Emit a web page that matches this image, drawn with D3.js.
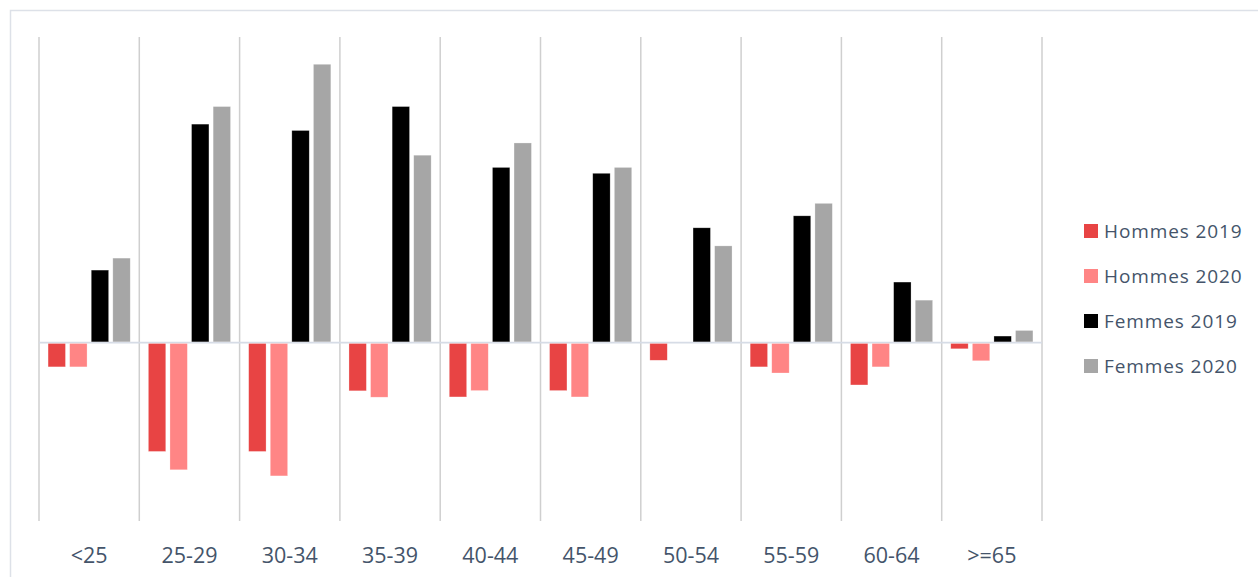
<!DOCTYPE html>
<html>
<head>
<meta charset="utf-8">
<script src="https://cdnjs.cloudflare.com/ajax/libs/d3/7.8.5/d3.min.js"></script>
<style>
  html, body { margin: 0; padding: 0; background: #fff; }
  svg { display: block; }
</style>
</head>
<body>
<svg id="chart" width="1258" height="577"></svg>
<script>
const categories = ["<25", "25-29", "30-34", "35-39", "40-44", "45-49", "50-54", "55-59", "60-64", ">=65"];
const seriesNames = ["Hommes 2019", "Hommes 2020", "Femmes 2019", "Femmes 2020"];
const hommes2019 = [-0.95, -4.27, -4.27, -1.89, -2.13, -1.88, -0.69, -0.95, -1.66, -0.24];
const hommes2020 = [-0.95, -4.99, -5.23, -2.14, -1.88, -2.13, 0, -1.19, -0.95, -0.71];
const femmes2019 = [2.85, 8.58, 8.33, 9.27, 6.88, 6.65, 4.51, 4.98, 2.38, 0.26];
const femmes2020 = [3.32, 9.27, 10.93, 7.36, 7.84, 6.88, 3.80, 5.47, 1.67, 0.48];
const seriesColors = ["#e84444", "#ff8585", "#000000", "#a6a6a6"];
const yDomain = [-7, 12];

const seriesValues = [hommes2019, hommes2020, femmes2019, femmes2020];

const svg = d3.select("#chart");
const textColor = "#44546a";
const font = "'Open Sans', 'Liberation Sans', sans-serif";

// outer frame
svg.append("rect")
  .attr("x", 10.5).attr("y", 10.5)
  .attr("width", 1300).attr("height", 620)
  .attr("fill", "none").attr("stroke", "#dde1e8").attr("stroke-width", 1.5);

const plotLeft = 39, plotRight = 1042, plotTop = 37, plotBottom = 521;

const x = d3.scaleBand().domain(categories).range([plotLeft, plotRight]).padding(0);
const xs = d3.scaleBand().domain(seriesNames).range([0, x.bandwidth()])
  .paddingInner(0.194).paddingOuter(0.42);
const y = d3.scaleLinear().domain(yDomain).range([plotBottom, plotTop]);

// vertical gridlines (category separators)
const sepPositions = categories.map(c => x(c)).concat([x(categories[categories.length - 1]) + x.bandwidth()]);
svg.append("g").selectAll("line").data(sepPositions).join("line")
  .attr("x1", d => d).attr("x2", d => d)
  .attr("y1", plotTop).attr("y2", plotBottom)
  .attr("stroke", "#cfcfcf").attr("stroke-width", 1.5);

// zero line
svg.append("line")
  .attr("x1", plotLeft).attr("x2", plotRight)
  .attr("y1", y(0)).attr("y2", y(0))
  .attr("stroke", "#d6dce6").attr("stroke-width", 1.8);

// bars
const g = svg.append("g");
seriesNames.forEach((s, si) => {
  g.append("g").selectAll("rect")
    .data(categories.map((c, i) => ({ c, v: seriesValues[si][i] })))
    .join("rect")
    .attr("x", d => x(d.c) + xs(s))
    .attr("width", xs.bandwidth())
    .attr("y", d => d.v >= 0 ? y(d.v) : y(0) + 0.8)
    .attr("height", d => d.v >= 0 ? Math.max(0, y(0) - 0.8 - y(d.v)) : Math.max(0, y(d.v) - y(0) - 0.8))
    .attr("fill", seriesColors[si])
    .attr("stroke", "rgba(255,255,255,0.45)")
    .attr("stroke-width", 0.6);
});

// x axis labels
const xAxis = d3.axisBottom(x).tickSize(0).tickPadding(0);
const ax = svg.append("g").attr("transform", `translate(0, 562.5)`).call(xAxis);
ax.select(".domain").remove();
ax.selectAll("text")
  .attr("dy", 0)
  .attr("fill", textColor)
  .style("font-family", font)
  .style("font-size", "21.5px");

// legend
const legend = svg.append("g");
seriesNames.forEach((s, i) => {
  const cy = 231 + i * 45;
  legend.append("rect")
    .attr("x", 1084).attr("y", cy - 7)
    .attr("width", 14).attr("height", 14)
    .attr("fill", seriesColors[i]);
  legend.append("text")
    .attr("x", 1104).attr("y", cy + 6.8)
    .attr("fill", textColor)
    .style("font-family", font)
    .style("font-size", "19px")
    .style("letter-spacing", "0.9px")
    .text(s);
});
</script>
</body>
</html>
